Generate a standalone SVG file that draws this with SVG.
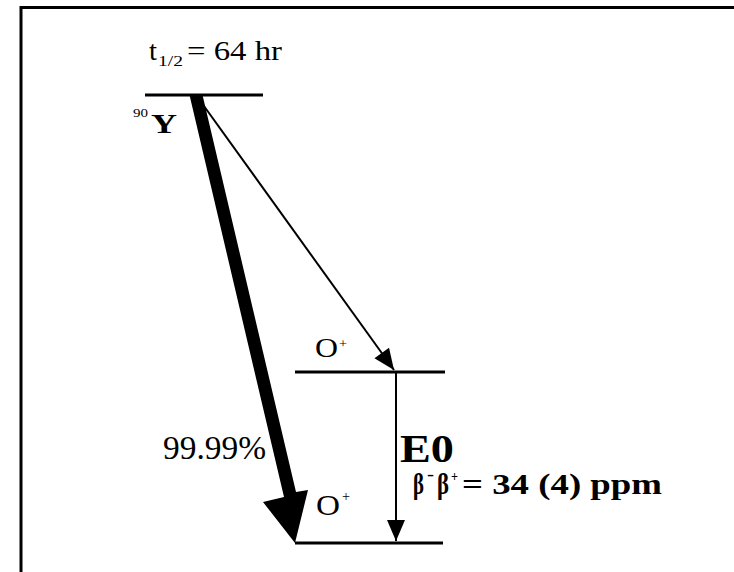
<svg xmlns="http://www.w3.org/2000/svg" width="734" height="572" viewBox="0 0 734 572">
<style>
  .lvl { stroke: #000; stroke-width: 3; fill: none; }
  .thin { stroke: #000; stroke-width: 2; fill: none; }
  .t { font-family: "Liberation Serif", "Times New Roman", serif; fill: #000; }
  .b { font-weight: bold; }
</style>
<defs>
  <marker id="ah" markerUnits="userSpaceOnUse" markerWidth="24" markerHeight="22" viewBox="-22 -10 24 20" refX="0" refY="0" orient="auto">
    <path d="M0,0 L-21,-9 L-21,9 Z" fill="#000"/>
  </marker>
</defs>
<rect width="734" height="572" fill="#fff"/>
<rect x="21" y="7.5" width="760" height="620" fill="none" stroke="#000" stroke-width="3"/>

<g id="level-90Y">
  <line class="lvl" x1="145" y1="95" x2="263" y2="95"/>
  <text class="t" x="149" y="60" font-size="28" textLength="8" lengthAdjust="spacingAndGlyphs">t</text>
  <text class="t" x="158" y="66" font-size="15" textLength="25" lengthAdjust="spacingAndGlyphs">1/2</text>
  <text class="t" x="187" y="60" font-size="28" textLength="95" lengthAdjust="spacingAndGlyphs">= 64 hr</text>
  <text class="t" x="133" y="117" font-size="13" textLength="15" lengthAdjust="spacingAndGlyphs">90</text>
  <text class="t b" x="151" y="133" font-size="27" textLength="26" lengthAdjust="spacingAndGlyphs">Y</text>
</g>

<g id="level-excited">
  <line class="lvl" x1="295" y1="372" x2="445" y2="372"/>
  <text class="t" x="315" y="357" font-size="27" textLength="23" lengthAdjust="spacingAndGlyphs">O</text>
  <text class="t" x="339" y="348" font-size="13" textLength="8" lengthAdjust="spacingAndGlyphs">+</text>
</g>

<g id="level-ground">
  <line class="lvl" x1="295" y1="543" x2="443" y2="543"/>
  <text class="t" x="316" y="515" font-size="30" textLength="24" lengthAdjust="spacingAndGlyphs">O</text>
  <text class="t" x="342" y="501" font-size="15" textLength="8" lengthAdjust="spacingAndGlyphs">+</text>
</g>

<g id="connectors">
  <polygon points="189.5,95 202.5,95 296,492 308,490 295,543 263,502 284,497" fill="#000"/>
  <line class="thin" x1="196" y1="95" x2="394" y2="370" marker-end="url(#ah)"/>
  <line class="thin" x1="396" y1="372" x2="396" y2="541" marker-end="url(#ah)"/>
  <text class="t" x="163" y="459" font-size="33" textLength="103" lengthAdjust="spacingAndGlyphs">99.99%</text>
  <text class="t b" x="400" y="462" font-size="41" textLength="54" lengthAdjust="spacingAndGlyphs">E0</text>
  <text class="t b" x="413" y="494" font-size="29" textLength="11" lengthAdjust="spacingAndGlyphs">β</text>
  <text class="t b" x="427" y="480" font-size="17" textLength="7" lengthAdjust="spacingAndGlyphs">-</text>
  <text class="t b" x="437" y="494" font-size="29" textLength="12" lengthAdjust="spacingAndGlyphs">β</text>
  <text class="t b" x="451" y="481" font-size="15" textLength="7" lengthAdjust="spacingAndGlyphs">+</text>
  <text class="t b" x="462" y="494" font-size="29" textLength="200" lengthAdjust="spacingAndGlyphs">= 34 (4) ppm</text>
</g>
</svg>
